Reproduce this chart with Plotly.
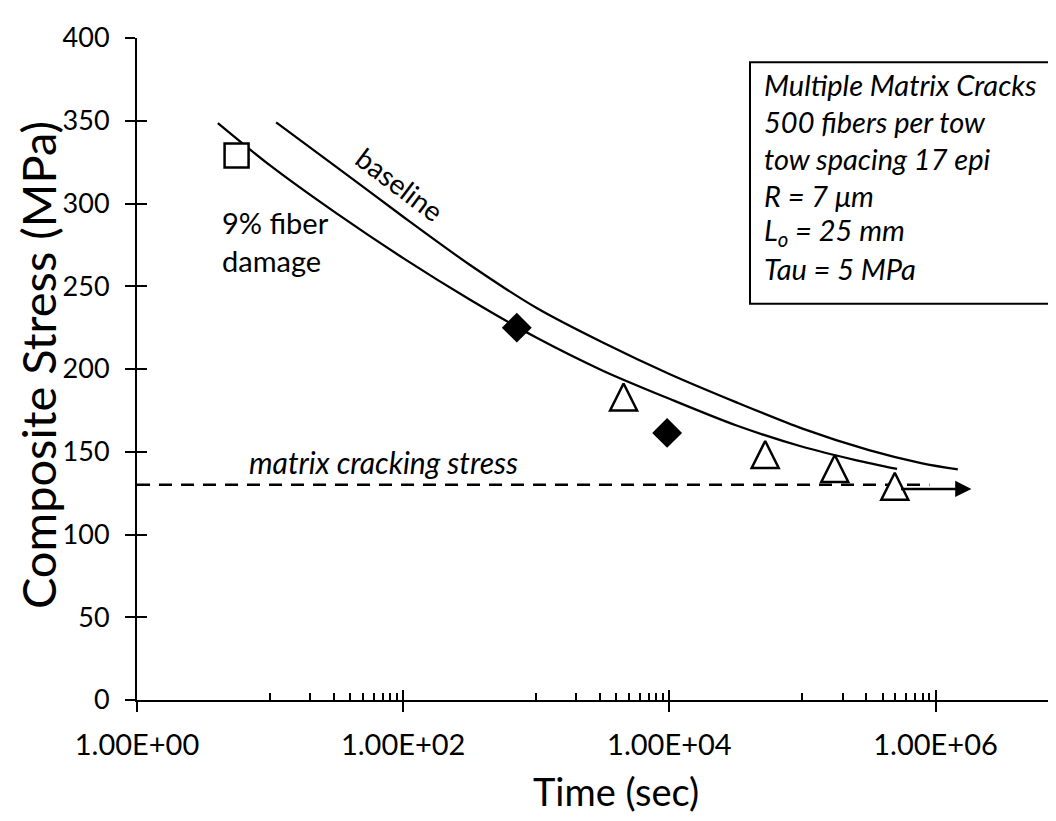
import plotly.graph_objects as go
import math

# ---------------- data ----------------
x_tickvals = [1, 100, 1e4, 1e6]
x_ticktext = ["1.00E+00", "1.00E+02", "1.00E+04", "1.00E+06"]
x_minor = [m * 10 ** d for d in (1, 3, 5) for m in range(1, 10)]
y_tickvals = [0, 50, 100, 150, 200, 250, 300, 350, 400]

# baseline model curve (time s, stress MPa)
baseline_t = [11.1, 31.6, 100, 316, 1000, 3160, 10000, 31600, 100000, 316000, 794000, 1470000]
baseline_s = [349, 322, 292, 263, 237, 216, 197, 180, 164, 151, 143, 139.3]

# 9% fiber damage model curve
damage_t = [4.05, 10, 31.6, 100, 316, 1000, 3160, 10000, 31600, 100000, 251000, 514000]
damage_s = [348.6, 323, 294, 267, 242, 219, 199, 182, 166, 153, 145, 139.6]

# matrix cracking stress
mcs_t = [1, 900000]
mcs_s = [130, 130]

# test data
square_t = [5.6]
square_s = [329]
diamond_t = [714, 9620]
diamond_s = [225, 161.4]
triangle_t = [4530, 52500, 175000, 494000]
triangle_s = [191.2, 156.5, 148, 137.3]

# runout arrow (from last triangle)
runout_from = 536000
runout_to = 1860000
runout_s = 127.5

box_lines = ["Multiple Matrix Cracks", "500 fibers per tow", "tow spacing 17 epi",
             "R = 7 \u03bcm", "L<sub>o</sub> = 25 mm", "Tau = 5 MPa"]

FONT = "Lato"
X_RANGE = [0, 6.875]

# plot area on screen (page body adds an 8px offset)
PL, PT, PW, PH = 137, 20, 915, 680


def px_x(sx):
    return (sx - PL) / PW


def px_y(sy):
    return (PT + PH - sy) / PH


fig = go.Figure()

fig.add_trace(go.Scatter(x=mcs_t, y=mcs_s, mode="lines",
                         line=dict(color="black", width=2.5, dash="13px,9px"),
                         showlegend=False, hoverinfo="skip"))
fig.add_trace(go.Scatter(x=baseline_t, y=baseline_s, mode="lines",
                         line=dict(color="black", width=2.25, shape="spline", smoothing=0.8),
                         showlegend=False))
fig.add_trace(go.Scatter(x=damage_t, y=damage_s, mode="lines",
                         line=dict(color="black", width=2.25, shape="spline", smoothing=0.8),
                         showlegend=False))
fig.add_trace(go.Scatter(x=square_t, y=square_s, mode="markers",
                         marker=dict(symbol="square", size=24, color="white",
                                     line=dict(color="black", width=2.5)),
                         showlegend=False))
fig.add_trace(go.Scatter(x=diamond_t, y=diamond_s, mode="markers",
                         marker=dict(symbol="diamond", size=23, color="black",
                                     line=dict(color="black", width=0)),
                         showlegend=False))
fig.add_trace(go.Scatter(x=triangle_t, y=triangle_s, mode="markers",
                         marker=dict(symbol="arrow-up", size=27, color="white",
                                     line=dict(color="black", width=2.5)),
                         showlegend=False))
# empty trace to activate overlay axes (inside half of crossing ticks)
fig.add_trace(go.Scatter(x=[], y=[], xaxis="x2", yaxis="y2", showlegend=False))

axis_common = dict(showgrid=False, zeroline=False)

fig.update_layout(
    width=1056, height=821,
    margin=dict(l=129, r=12, t=12, b=129),
    paper_bgcolor="white", plot_bgcolor="white",
    font=dict(family=FONT, color="black"),
    xaxis=dict(type="log", range=X_RANGE, showline=True, linecolor="black", linewidth=2,
               tickmode="array", tickvals=x_tickvals, ticktext=x_ticktext,
               ticks="outside", ticklen=10, tickwidth=2, tickcolor="black",
               tickfont=dict(size=29, family=FONT), ticklabelstandoff=8,
               ticklabeloverflow="allow",
               minor=dict(tickmode="array", tickvals=x_minor, ticks="inside",
                          ticklen=7, tickwidth=2, tickcolor="black"),
               **axis_common),
    yaxis=dict(range=[0, 400], showline=True, linecolor="black", linewidth=2,
               tickmode="array", tickvals=y_tickvals,
               ticks="outside", ticklen=10, tickwidth=2, tickcolor="black",
               tickfont=dict(size=27, family=FONT), ticklabelstandoff=10,
               ticklabeloverflow="allow",
               **axis_common),
    xaxis2=dict(type="log", range=X_RANGE, overlaying="x", anchor="y2", side="bottom",
                showline=False, tickmode="array", tickvals=x_tickvals,
                ticks="inside", ticklen=10, tickwidth=2, tickcolor="black",
                showticklabels=False, **axis_common),
    yaxis2=dict(range=[0, 400], overlaying="y", anchor="x2", side="left",
                showline=False, tickmode="array", tickvals=y_tickvals,
                ticks="inside", ticklen=10, tickwidth=2, tickcolor="black",
                showticklabels=False, **axis_common),
)

# axis titles
fig.add_annotation(xref="paper", yref="paper", x=px_x(616), y=px_y(793), text="Time (sec)",
                   showarrow=False, xanchor="center", yanchor="middle",
                   font=dict(size=38, family=FONT))
fig.add_annotation(xref="paper", yref="paper", x=px_x(38), y=px_y(356),
                   text="Composite Stress (MPa)",
                   showarrow=False, textangle=-90, xanchor="center", yanchor="middle",
                   font=dict(size=47, family=FONT))

# parameter box
fig.add_shape(type="rect", xref="paper", yref="paper",
              x0=px_x(750), x1=px_x(1054), y0=px_y(293), y1=px_y(45),
              line=dict(color="black", width=2), fillcolor="white", layer="above")
for i, t in enumerate(box_lines):
    fig.add_annotation(xref="paper", yref="paper", x=px_x(762), y=px_y(68 + i * 37.8),
                       text="<i>" + t + "</i>", showarrow=False, xanchor="left",
                       yanchor="middle", font=dict(size=29, family=FONT))

fig.add_annotation(x=math.log10(94), y=312, text="baseline", textangle=37, showarrow=False,
                   font=dict(size=28, family=FONT))
fig.add_annotation(x=math.log10(4.17), y=277, text="9% fiber<br>damage", xanchor="left",
                   align="left", showarrow=False, font=dict(size=29, family=FONT))
fig.add_annotation(x=math.log10(6.76), y=144, text="<i>matrix cracking stress</i>",
                   xanchor="left", showarrow=False, font=dict(size=30, family=FONT))
fig.add_annotation(x=math.log10(runout_to), y=runout_s, ax=math.log10(runout_from), ay=runout_s,
                   xref="x", yref="y", axref="x", ayref="y", text="", showarrow=True,
                   arrowhead=2, arrowsize=1.3, arrowwidth=2.5, arrowcolor="black", standoff=0)

fig.write_html("out.html")
